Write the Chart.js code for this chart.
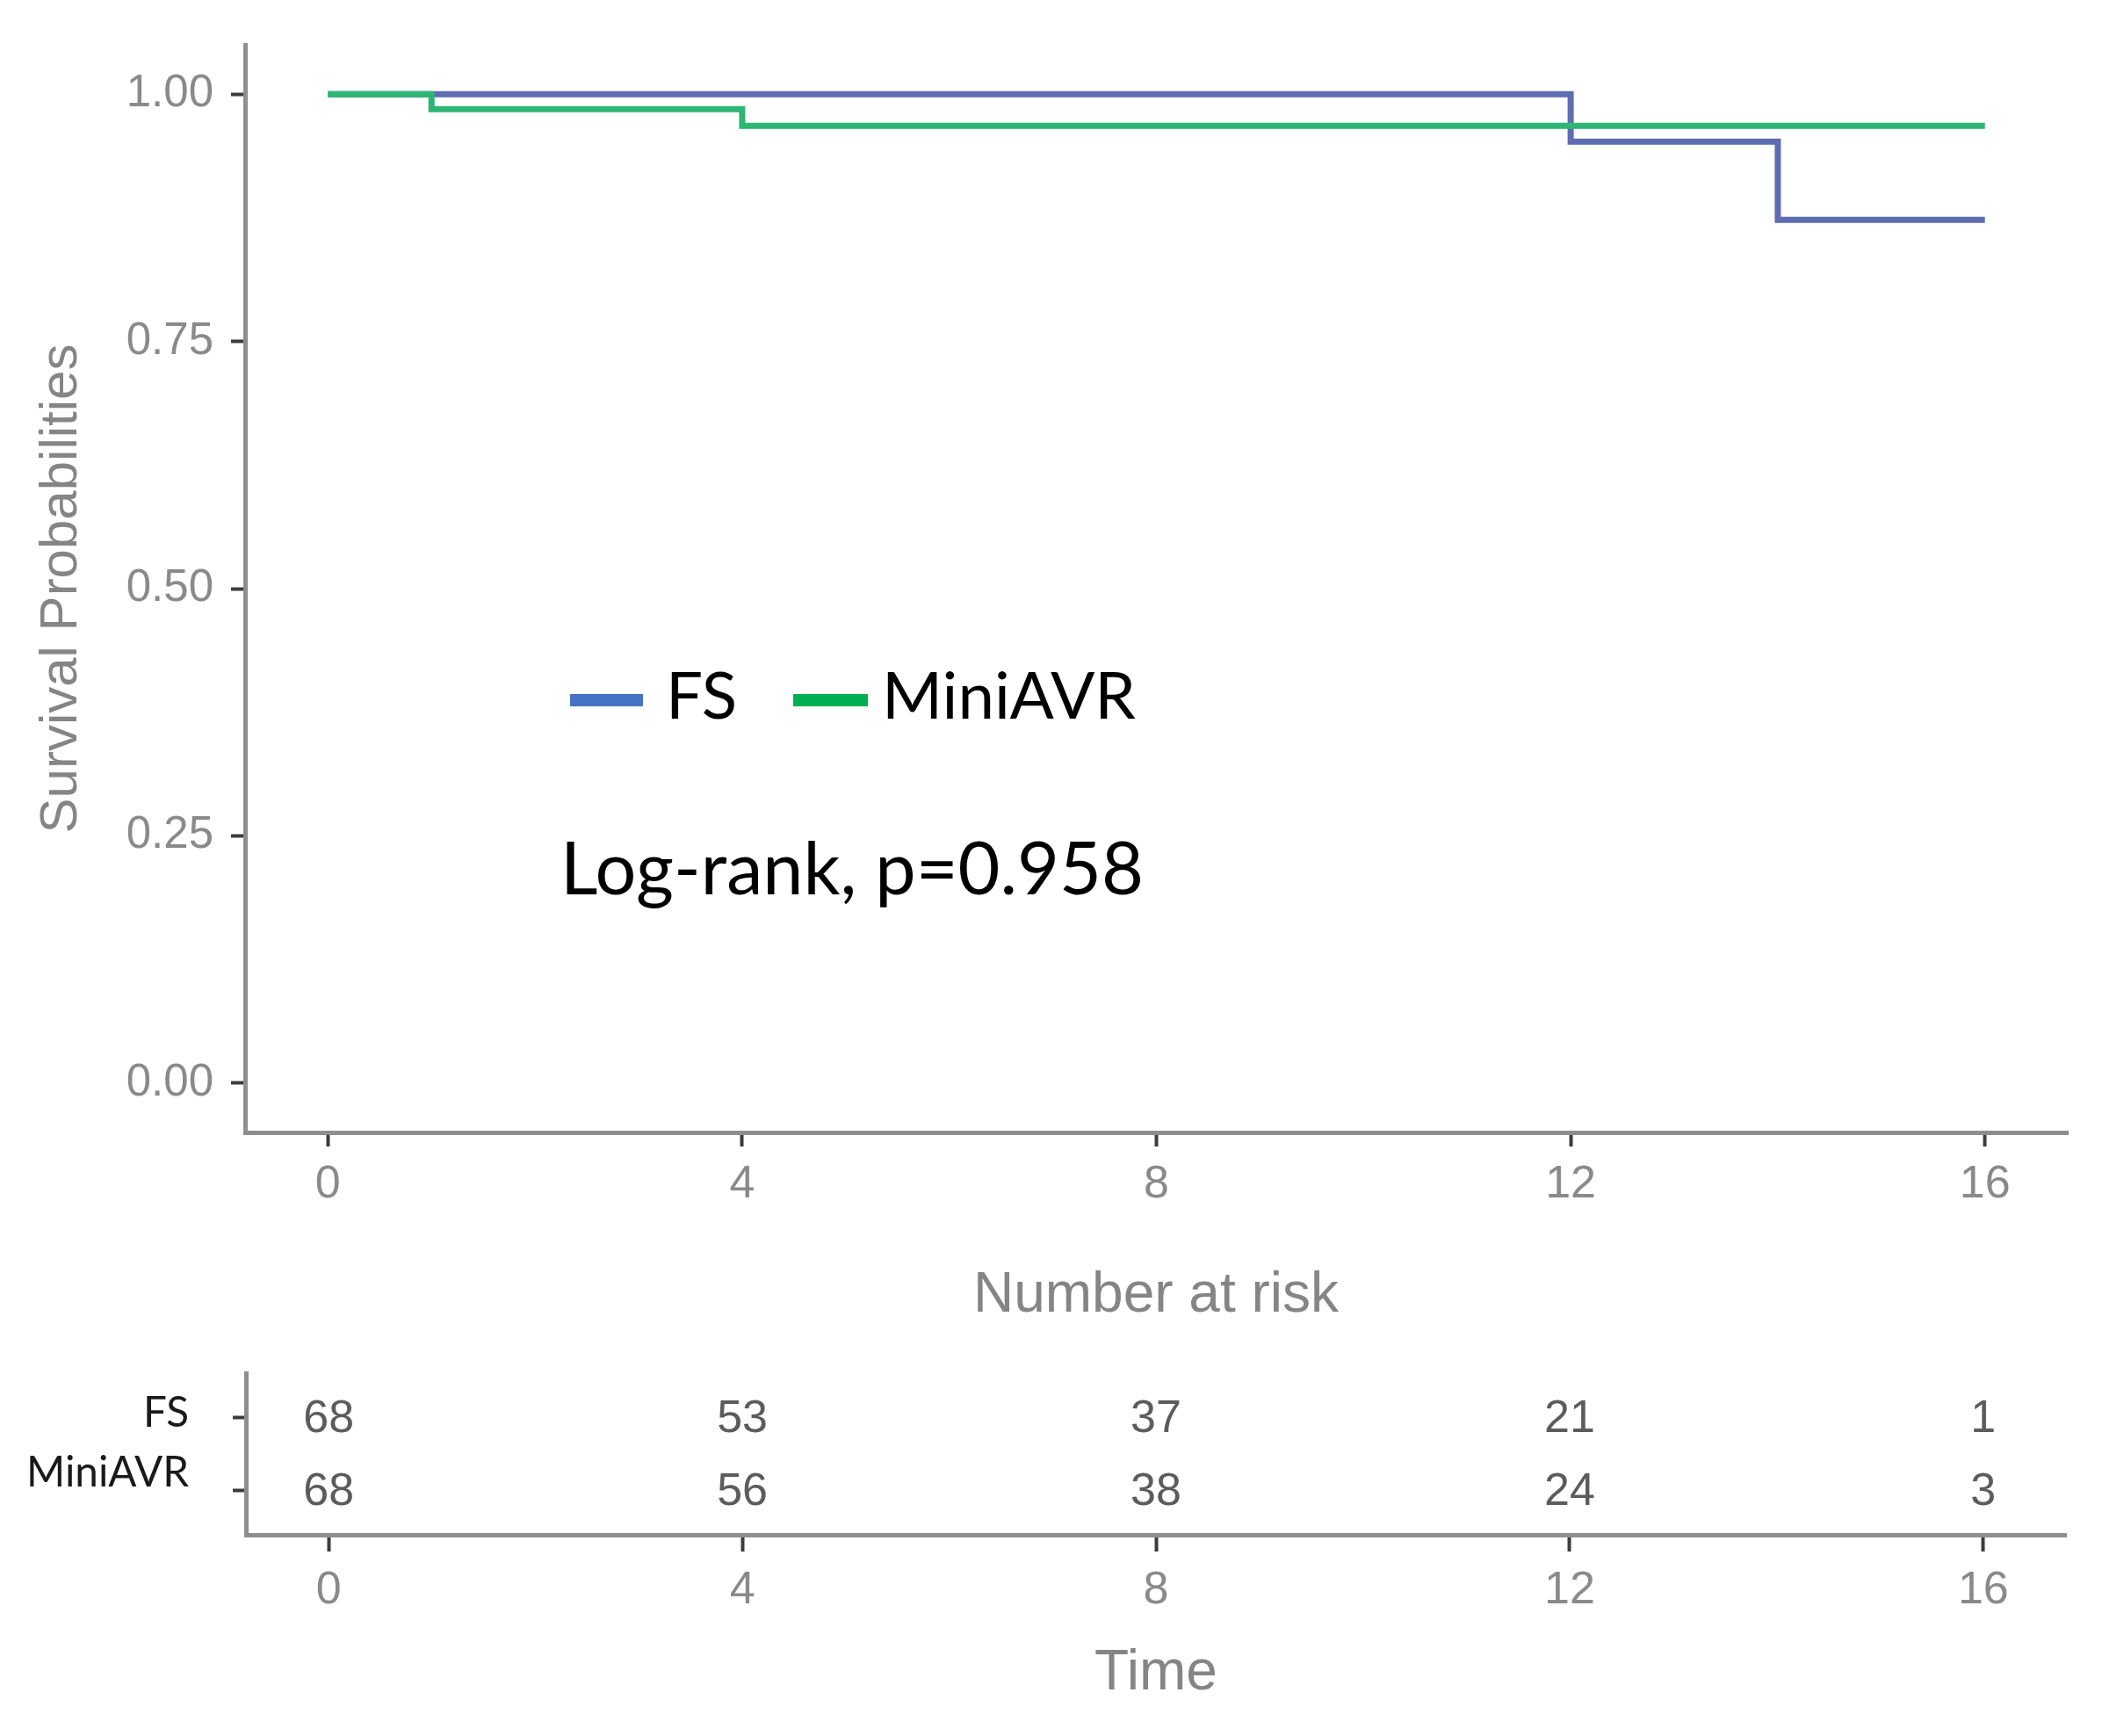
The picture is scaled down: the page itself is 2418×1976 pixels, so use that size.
<!DOCTYPE html>
<html><head><meta charset="utf-8">
<script src="https://cdn.jsdelivr.net/npm/chart.js@4.4.1/dist/chart.umd.min.js"></script>
<style>
html,body{margin:0;padding:0;background:#fff;width:2418px;height:1976px;overflow:hidden}
canvas{position:absolute;left:0}
#km{top:0}
#risk{top:1380px}
</style></head><body>
<canvas id="km" width="2418" height="1420"></canvas>
<canvas id="risk" width="2418" height="596"></canvas>
<script>
// ---- data ----
const groups = ['FS', 'MiniAVR'];
const fsTimes = [0, 12, 14, 16];
const fsSurv = [1.000, 0.952, 0.873, 0.873];
const miniTimes = [0, 1, 4, 16];
const miniSurv = [1.000, 0.985, 0.968, 0.968];
const timeTicks = [0, 4, 8, 12, 16];
const survTicks = [0, 0.25, 0.5, 0.75, 1];
const riskFS = [68, 53, 37, 21, 1];
const riskMini = [68, 56, 38, 24, 3];
const pValueText = 'Log-rank, p=0.958';

// ---- styles ----
const SANS = "'Liberation Sans', Arial, Helvetica, sans-serif";
const CAL = "Lato, 'Open Sans', sans-serif";
Chart.defaults.font.family = SANS;
const lineColors = ['#5E6CB2', '#2DB574'];
const legendColors = ['#4472C4', '#00B050'];
const axisGray = '#8e8e8e';
const tickGray = '#8a8a8a';
const titleGray = '#858585';

function toXY(xs, ys) { return xs.map((x, i) => ({ x: x, y: ys[i] })); }
function fitSize(ctx, text, family, target) {
  ctx.font = '100px ' + family;
  return 100 * target / ctx.measureText(text).width;
}

const kmAnnot = {
  id: 'kmAnnot',
  afterDraw(chart) {
    const ctx = chart.ctx;
    ctx.save();
    const ds = chart.data.datasets;
    const legSize = fitSize(ctx, ds[1].label, CAL, 289);
    const items = [
      { seg: [649, 732], tx: 758 },
      { seg: [903, 988], tx: 1004 }
    ];
    items.forEach((it, i) => {
      ctx.strokeStyle = legendColors[i];
      ctx.lineWidth = 14;
      ctx.lineCap = 'butt';
      ctx.beginPath();
      ctx.moveTo(it.seg[0], 797);
      ctx.lineTo(it.seg[1], 797);
      ctx.stroke();
      ctx.fillStyle = '#000';
      ctx.font = legSize + 'px ' + CAL;
      ctx.textAlign = 'left';
      ctx.textBaseline = 'alphabetic';
      ctx.fillText(ds[i].label, it.tx, 818);
    });
    const pSize = fitSize(ctx, pValueText, CAL, 664);
    ctx.font = pSize + 'px ' + CAL;
    ctx.fillText(pValueText, 638, 1018);
    ctx.restore();
  }
};

const commonGrid = { drawOnChartArea: false, tickWidth: 4, tickColor: '#3c3c3c' };
const commonBorder = { display: true, color: axisGray, width: 5 };

new Chart(document.getElementById('km'), {
  type: 'line',
  data: {
    datasets: [
      { label: groups[0], data: toXY(fsTimes, fsSurv), borderColor: lineColors[0], borderWidth: 7,
        stepped: 'before', pointRadius: 0, fill: false, order: 1, borderCapStyle: 'butt', borderJoinStyle: 'miter' },
      { label: groups[1], data: toXY(miniTimes, miniSurv), borderColor: lineColors[1], borderWidth: 7,
        stepped: 'before', pointRadius: 0, fill: false, order: 0, borderCapStyle: 'butt', borderJoinStyle: 'miter' }
    ]
  },
  options: {
    responsive: false, animation: false, devicePixelRatio: 1,
    layout: { padding: { left: 0, top: 51, right: 64, bottom: 0 } },
    plugins: { legend: { display: false }, tooltip: { enabled: false }, title: { display: false } },
    scales: {
      x: {
        type: 'linear', min: -0.8, max: 16.8,
        afterBuildTicks: s => { s.ticks = timeTicks.map(v => ({ value: v })); },
        afterFit: s => { s.height = 131; },
        grid: Object.assign({ tickLength: 16 }, commonGrid),
        border: commonBorder,
        ticks: { padding: 12, font: { size: 52 }, color: tickGray, maxRotation: 0, autoSkip: false,
                 callback: v => String(v) }
      },
      y: {
        type: 'linear', min: -0.05, max: 1.05,
        afterBuildTicks: s => { s.ticks = survTicks.map(v => ({ value: v })); },
        afterFit: s => { s.width = 279; },
        grid: Object.assign({ tickLength: 16 }, commonGrid),
        border: commonBorder,
        ticks: { padding: 20, font: { size: 51 }, color: tickGray, autoSkip: false,
                 callback: v => Number(v).toFixed(2) },
        title: { display: true, text: 'Survival Probabilities', font: { size: 60 }, color: titleGray,
                 padding: { top: 34, bottom: 0 } }
      }
    }
  },
  plugins: [kmAnnot]
});

const riskAnnot = {
  id: 'riskAnnot',
  afterDraw(chart) {
    const ctx = chart.ctx;
    ctx.save();
    // numbers at risk, placed on the dataset points
    ctx.font = '52px ' + SANS;
    ctx.fillStyle = '#5c5c5c';
    ctx.textAlign = 'center';
    ctx.textBaseline = 'middle';
    chart.data.datasets.forEach((ds, di) => {
      const meta = chart.getDatasetMeta(di);
      meta.data.forEach((pt, i) => {
        ctx.fillText(String(ds.data[i].n), pt.x, pt.y + 2);
      });
    });
    // row labels
    const yS = chart.scales.y;
    const size = fitSize(ctx, groups[1], CAL, 185);
    ctx.font = size + 'px ' + CAL;
    ctx.fillStyle = '#1a1a1a';
    ctx.textAlign = 'right';
    ctx.textBaseline = 'alphabetic';
    ctx.fillText(groups[0], 215, yS.getPixelForValue(2) + 11);
    ctx.fillText(groups[1], 215, yS.getPixelForValue(1) - 5);
    ctx.restore();
  }
};

new Chart(document.getElementById('risk'), {
  type: 'scatter',
  data: {
    datasets: [
      { label: groups[0], data: timeTicks.map((t, i) => ({ x: t, y: 2, n: riskFS[i] })), pointRadius: 0 },
      { label: groups[1], data: timeTicks.map((t, i) => ({ x: t, y: 1, n: riskMini[i] })), pointRadius: 0 }
    ]
  },
  options: {
    responsive: false, animation: false, devicePixelRatio: 1,
    layout: { padding: { left: 0, top: 0, right: 66, bottom: 0 } },
    plugins: {
      legend: { display: false }, tooltip: { enabled: false },
      title: { display: true, text: 'Number at risk', fullSize: false, color: titleGray,
               font: { size: 64, weight: 'normal' }, padding: { top: 56.6, bottom: 49.6 } }
    },
    scales: {
      x: {
        type: 'linear', min: -0.8, max: 16.8,
        afterBuildTicks: s => { s.ticks = timeTicks.map(v => ({ value: v })); },
        afterFit: s => { s.height = 229; },
        grid: Object.assign({ tickLength: 19 }, commonGrid),
        border: commonBorder,
        ticks: { padding: 13, font: { size: 52 }, color: tickGray, maxRotation: 0, autoSkip: false,
                 callback: v => String(v) },
        title: { display: true, text: 'Time', font: { size: 64 }, color: titleGray, padding: { top: 0, bottom: 32.6 } }
      },
      y: {
        type: 'linear', min: 0.4, max: 2.6,
        afterBuildTicks: s => { s.ticks = [1, 2].map(v => ({ value: v })); },
        afterFit: s => { s.width = 280; },
        grid: Object.assign({ tickLength: 15 }, commonGrid),
        border: commonBorder,
        ticks: { display: false }
      }
    }
  },
  plugins: [riskAnnot]
});
</script>
</body></html>
